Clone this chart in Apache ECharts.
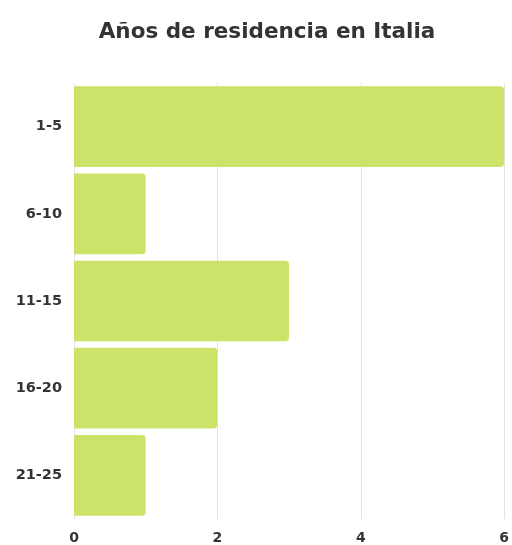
<!DOCTYPE html>
<html><head><meta charset="utf-8">
<script src="https://cdn.jsdelivr.net/npm/echarts@6/dist/echarts.min.js"></script>
<style>html,body{margin:0;padding:0;background:#fff}#c{width:512px;height:545px}</style>
</head><body><div id="c"></div>
<script>
const categories = ["1-5", "6-10", "11-15", "16-20", "21-25"];
const values = [6, 1, 3, 2, 1];
const xTicks = [0, 2, 4, 6];

const chart = echarts.init(document.getElementById('c'), null, {renderer: 'canvas'});
chart.setOption({
  animation: false,
  title: {
    text: "Años de residencia en Italia",
    left: 262, top: 16, textAlign: 'center',
    textStyle: {fontFamily: "DejaVu Sans", fontWeight: 'bold', fontSize: 21.5, color: '#333'}
  },
  grid: {left: 74, right: 5, top: 83, bottom: 25, containLabel: false},
  xAxis: {
    type: 'value', min: 0, max: 6, interval: 2,
    axisLine: {show: false}, axisTick: {show: false},
    axisLabel: {fontFamily: "DejaVu Sans", fontWeight: 'bold', fontSize: 14, color: '#333', margin: 12,
      formatter: v => xTicks.includes(v) ? String(v) : ''},
    splitLine: {show: true, lineStyle: {color: '#e3e3e3', width: 1}}
  },
  yAxis: {
    type: 'category', data: categories, inverse: true,
    axisLine: {show: false}, axisTick: {show: false},
    axisLabel: {fontFamily: "DejaVu Sans", fontWeight: 'bold', fontSize: 14.5, color: '#333', margin: 12}
  },
  series: [{
    type: 'bar', data: values, barCategoryGap: '7.5%',
    itemStyle: {color: '#cce36a', borderRadius: [0, 4, 4, 0]}
  }]
});
</script></body></html>
